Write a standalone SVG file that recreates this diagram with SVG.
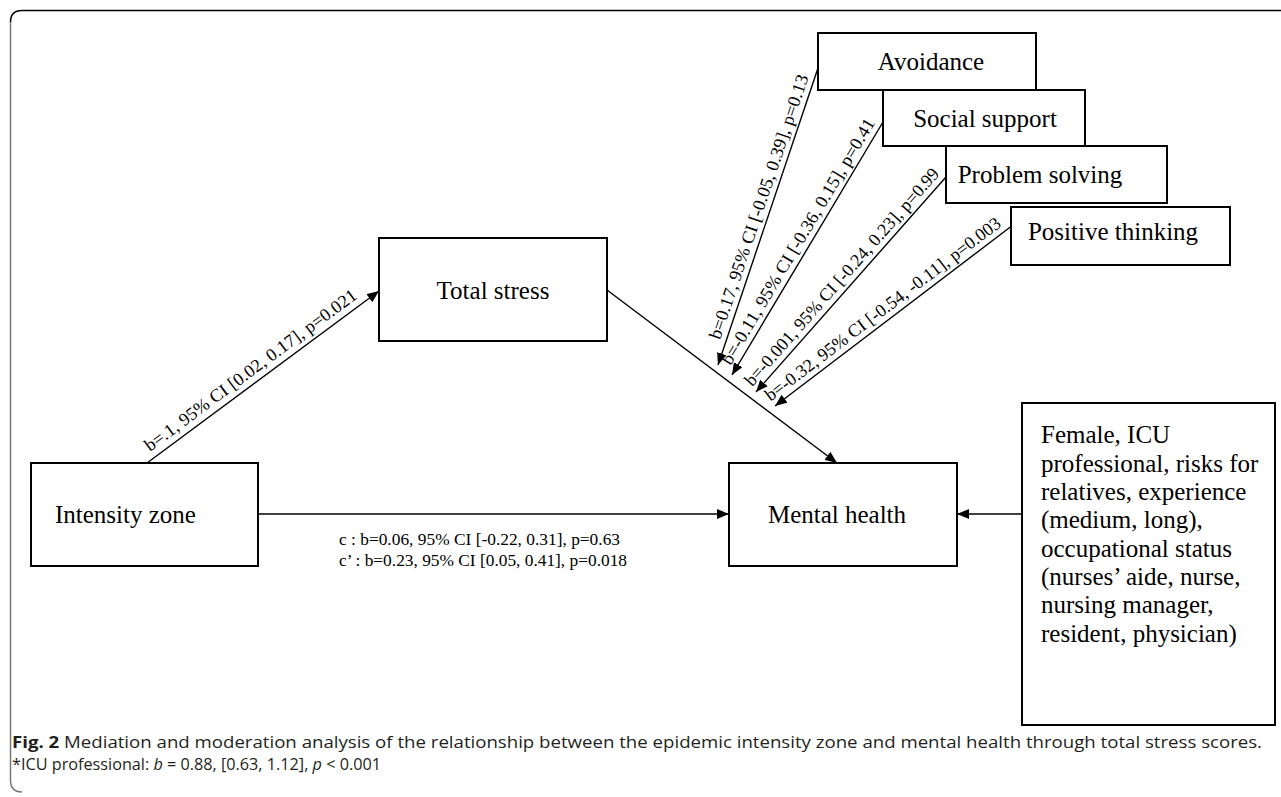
<svg xmlns="http://www.w3.org/2000/svg" width="1281" height="797" viewBox="0 0 1281 797">
<defs>
<style>
.box{fill:#fff;stroke:#000;stroke-width:2}
.lbl{font-family:"Liberation Serif","Times New Roman",serif;font-size:25px;fill:#000}
.sm{font-family:"Liberation Serif","Times New Roman",serif;font-size:17px;fill:#000}
.dg{font-family:"Liberation Serif","Times New Roman",serif;font-size:18px;fill:#000}
.edge{stroke:#000;stroke-width:1.4;fill:none}
.cap{font-family:"Open Sans","Noto Sans",sans-serif;font-size:16px;fill:#231f20}
</style>
<marker id="ah" markerWidth="12" markerHeight="10" refX="12" refY="5" orient="auto" markerUnits="userSpaceOnUse">
<path d="M0,0 L12,5 L0,10 z" fill="#000"/>
</marker>
</defs>
<rect width="1281" height="797" fill="#fff"/>
<g id="frame">
<path d="M1281,10.5 H22 Q10.5,10.5 10.5,22" fill="none" stroke="#000" stroke-width="1.5"/>
<path d="M10.5,22 V780 Q10.5,792 22,792" fill="none" stroke="#777" stroke-width="1.5"/>
</g>
<g id="connectors">
<line class="edge" x1="147" y1="463" x2="379" y2="291" marker-end="url(#ah)"/>
<line class="edge" x1="258" y1="514" x2="729" y2="514" marker-end="url(#ah)"/>
<line class="edge" x1="607" y1="290" x2="837" y2="463" marker-end="url(#ah)"/>
<line class="edge" x1="1022" y1="514" x2="957" y2="514" marker-end="url(#ah)"/>
<line class="edge" x1="818" y1="68" x2="718" y2="365" marker-end="url(#ah)"/>
<line class="edge" x1="883" y1="122" x2="732" y2="375" marker-end="url(#ah)"/>
<line class="edge" x1="946" y1="177" x2="756" y2="392" marker-end="url(#ah)"/>
<line class="edge" x1="1013" y1="225" x2="775" y2="406" marker-end="url(#ah)"/>
<text class="dg" transform="translate(147,463) rotate(-36.55)" x="9" y="-7" textLength="259" lengthAdjust="spacingAndGlyphs">b=.1, 95% CI [0.02, 0.17], p=0.021</text>
<text class="sm" x="339" y="545" textLength="281" lengthAdjust="spacingAndGlyphs">c : b=0.06, 95% CI [-0.22, 0.31], p=0.63</text>
<text class="sm" x="339" y="566" textLength="288" lengthAdjust="spacingAndGlyphs">c’ : b=0.23, 95% CI [0.05, 0.41], p=0.018</text>
<text class="dg" transform="translate(718,365) rotate(-71.39)" x="24" y="-6" textLength="278" lengthAdjust="spacingAndGlyphs">b=0.17, 95% CI [-0.05, 0.39], p=0.13</text>
<text class="dg" transform="translate(732,375) rotate(-59.17)" x="7" y="-6" textLength="283" lengthAdjust="spacingAndGlyphs">b=-0.11, 95% CI [-0.36, 0.15], p=0.41</text>
<text class="dg" transform="translate(756,392) rotate(-48.53)" x="1" y="-6" textLength="284" lengthAdjust="spacingAndGlyphs">b=-0.001, 95% CI [-0.24, 0.23], p=0.99</text>
<text class="dg" transform="translate(775,406) rotate(-37.25)" x="-1" y="-6" textLength="291" lengthAdjust="spacingAndGlyphs">b=-0.32, 95% CI [-0.54, -0.11], p=0.003</text>
</g>
<g id="avoidance">
<rect class="box" x="818" y="33" width="218" height="57"/>
<text class="lbl" x="931" y="70" text-anchor="middle">Avoidance</text>
</g>
<g id="social-support">
<rect class="box" x="883" y="90" width="202" height="56"/>
<text class="lbl" x="985" y="127" text-anchor="middle">Social support</text>
</g>
<g id="problem-solving">
<rect class="box" x="946" y="146" width="221" height="57"/>
<text class="lbl" x="1040" y="183" text-anchor="middle">Problem solving</text>
</g>
<g id="positive-thinking">
<rect class="box" x="1011" y="207" width="219" height="58"/>
<text class="lbl" x="1113" y="240" text-anchor="middle">Positive thinking</text>
</g>
<g id="total-stress">
<rect class="box" x="379" y="238" width="228" height="103"/>
<text class="lbl" x="493" y="299" text-anchor="middle">Total stress</text>
</g>
<g id="intensity-zone">
<rect class="box" x="31" y="463" width="227" height="103"/>
<text class="lbl" x="55" y="523">Intensity zone</text>
</g>
<g id="mental-health">
<rect class="box" x="729" y="463" width="228" height="103"/>
<text class="lbl" x="837" y="523" text-anchor="middle">Mental health</text>
</g>
<g id="covariates">
<rect class="box" x="1022" y="403" width="253" height="322"/>
<text class="lbl" x="1041" y="443">Female, ICU</text>
<text class="lbl" x="1041" y="472">professional, risks for</text>
<text class="lbl" x="1041" y="500">relatives, experience</text>
<text class="lbl" x="1041" y="528">(medium, long),</text>
<text class="lbl" x="1041" y="557">occupational status</text>
<text class="lbl" x="1041" y="585">(nurses’ aide, nurse,</text>
<text class="lbl" x="1041" y="613">nursing manager,</text>
<text class="lbl" x="1041" y="642">resident, physician)</text>
</g>
<g id="caption">
<text class="cap" x="12" y="748" textLength="1250" lengthAdjust="spacingAndGlyphs"><tspan font-weight="bold">Fig. 2</tspan>  Mediation and moderation analysis of the relationship between the epidemic intensity zone and mental health through total stress scores.</text>
<text class="cap" x="12" y="770" textLength="369" lengthAdjust="spacingAndGlyphs">*ICU professional: <tspan font-style="italic">b</tspan> = 0.88, [0.63, 1.12], <tspan font-style="italic">p</tspan> &lt; 0.001</text>
</g>
</svg>
